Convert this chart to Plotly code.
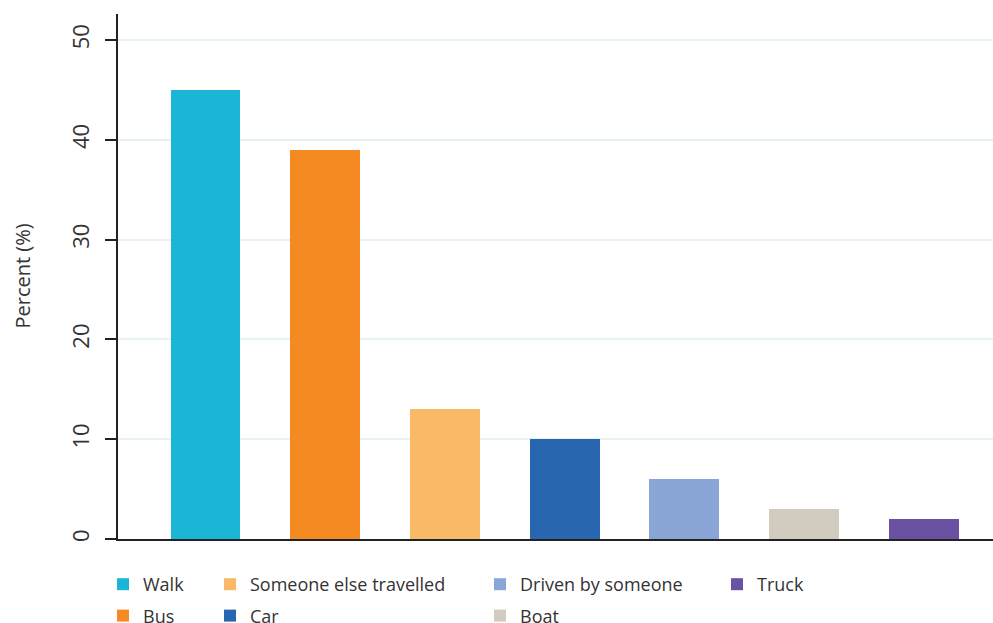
import plotly.graph_objects as go

categories = ["Walk", "Bus", "Someone else travelled", "Car", "Driven by someone", "Boat", "Truck"]
values = [45, 39, 13, 10, 6, 3, 2]
colors = ["#1bb6d6", "#f58a23", "#fab966", "#2866b0", "#8aa6d6", "#d2cbbf", "#6a51a2"]
legend_ids = ["legend", "legend", "legend2", "legend2", "legend3", "legend3", "legend4"]
y_ticks = [0, 10, 20, 30, 40, 50]

FONT = "Open Sans"
TXT = "#333333"

fig = go.Figure()
for i, (cat, val, col, lg) in enumerate(zip(categories, values, colors, legend_ids)):
    fig.add_trace(go.Bar(
        x=[i], y=[val], name=cat, marker=dict(color=col, line=dict(width=0)),
        width=0.584, legend=lg, legendgroup=cat, showlegend=True,
    ))

W, H = 993, 623
def leg(xpx, ytop):
    return dict(x=xpx / W, y=1 - ytop / H, xref="container", yref="container",
                xanchor="left", yanchor="top", orientation="v",
                font=dict(family=FONT, size=18, color=TXT), bgcolor="rgba(0,0,0,0)",
                tracegroupgap=5, itemclick=False)

fig.update_layout(
    width=W, height=H,
    margin=dict(l=118, r=0, t=14, b=84, autoexpand=False),
    plot_bgcolor="white", paper_bgcolor="white",
    font=dict(family=FONT, color=TXT),
    bargap=0,
    showlegend=True,
    legend=leg(103, 566),
    legend2=leg(210, 566),
    legend3=leg(480, 566),
    legend4=leg(717, 566),
    xaxis=dict(
        range=[-0.731, 6.579], showticklabels=False, ticks="", showgrid=False,
        zeroline=False, showline=True, linecolor="#222222", linewidth=2,
    ),
    yaxis=dict(
        range=[0, 52.6], tickvals=y_ticks, ticktext=[str(v) for v in y_ticks],
        ticks="outside", ticklen=11, tickwidth=1.5, tickcolor="#222222",
        tickangle=-90, tickfont=dict(family=FONT, size=22, color=TXT),
        ticklabelstandoff=7,
        showline=True, linecolor="#222222", linewidth=1.5,
        showgrid=True, gridcolor="#e6f2f6", gridwidth=2, zeroline=False,
    ),
    annotations=[dict(
        text="Percent (%)", textangle=-90, xref="paper", yref="paper",
        x=-0.1097, y=0.5, xanchor="center", yanchor="middle", showarrow=False,
        font=dict(family=FONT, size=20, color=TXT),
    )],
)

fig.write_html(
    "out.html",
    config={"displayModeBar": False},
    post_script="document.body.style.margin='0';document.body.style.overflow='hidden';",
)
